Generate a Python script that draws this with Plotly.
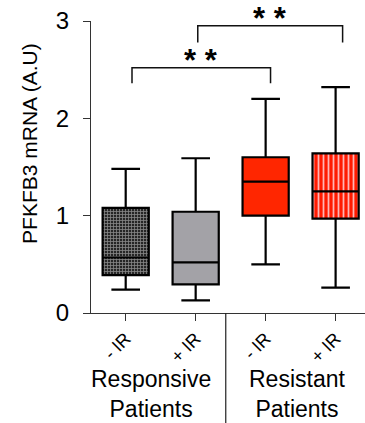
import plotly.graph_objects as go

# ---- data ----
categories = ["- IR", "+ IR", "- IR", "+ IR"]
lower = [0.24, 0.13, 0.50, 0.26]
q1 = [0.39, 0.295, 1.00, 0.97]
median = [0.57, 0.52, 1.35, 1.25]
q3 = [1.08, 1.04, 1.60, 1.64]
upper = [1.48, 1.59, 2.20, 2.32]
groups = ["Responsive<br>Patients", "Resistant<br>Patients"]
comparisons = [(0, 2, "* *"), (1, 3, "* *")]
y_title = "PFKFB3 mRNA (A.U)"

fills = ["rgba(0,0,0,0)", "#a3a2a7", "#ff2600", "rgba(0,0,0,0)"]
patterns = {
    0: dict(shape="+", bgcolor="#262626", fgcolor="#888888", size=3, solidity=0.45, fillmode="replace"),
    3: dict(shape="|", bgcolor="#ff1a00", fgcolor="#ffb4b4", size=5, solidity=0.35, fillmode="replace"),
}

FONT = "Liberation Sans, Arial, sans-serif"
fig = go.Figure()
xs = list(range(len(categories)))
W = 0.66

for i, pat in patterns.items():
    fig.add_trace(go.Bar(x=[xs[i]], y=[q3[i] - q1[i]], base=[q1[i]], width=W,
                         marker=dict(pattern=pat, line=dict(width=0)),
                         showlegend=False, hoverinfo="skip"))

for i in xs:
    fig.add_trace(go.Box(x=[xs[i]], q1=[q1[i]], median=[median[i]], q3=[q3[i]],
                         lowerfence=[lower[i]], upperfence=[upper[i]],
                         width=W, whiskerwidth=0.62, fillcolor=fills[i],
                         line=dict(color="black", width=2.2),
                         showlegend=False, boxpoints=False))

shapes = []
annotations = []
bracket_levels = [(2.36, 2.52), (2.78, 2.95)]
for (a, b, txt), (lo, hi) in zip(comparisons, bracket_levels):
    xa, xb = xs[a] + 0.09, xs[b] + 0.07
    if b == 3:
        xa, xb = xs[a] + 0.03, xs[b] + 0.1
    shapes.append(dict(type="path", xref="x", yref="y",
                       path=f"M{xa},{lo} L{xa},{hi} L{xb},{hi} L{xb},{lo}",
                       line=dict(color="#111", width=1.5)))
    annotations.append(dict(x=(xa + xb) / 2, y=hi, xref="x", yref="y", text=f"<b>{txt}</b>",
                            showarrow=False, yanchor="bottom", yshift=-12,
                            font=dict(family=FONT, size=31, color="black")))

# divider line below x axis
shapes.append(dict(type="line", xref="x", yref="paper", x0=1.43, x1=1.43, y0=0, y1=-0.38,
                   line=dict(color="#222", width=1.2)))
for gx, gtxt in zip([0.36, 2.45], groups):
    annotations.append(dict(x=gx, y=-0.175, xref="x", yref="paper", text=gtxt,
                            showarrow=False, yanchor="top",
                            font=dict(family=FONT, size=23, color="black")))

# y-axis title (placed slightly above centre, as in the original)
annotations.append(dict(x=-0.2226, xref="paper", y=0.579, yref="paper", text=y_title,
                        textangle=-90, showarrow=False, xanchor="center", yanchor="middle",
                        font=dict(family=FONT, size=21, color="black")))

fig.update_layout(
    width=365, height=423,
    margin=dict(l=91, r=0, t=21, b=110),
    plot_bgcolor="white", paper_bgcolor="white",
    barmode="overlay", boxmode="overlay",
    shapes=shapes, annotations=annotations,
    font=dict(family=FONT, color="black"),
)
fig.update_xaxes(range=[-0.496, 3.42], tickvals=xs, ticktext=categories, tickangle=-45,
                 showline=True, linecolor="#333", linewidth=1.2, ticks="outside",
                 ticklen=7, tickcolor="#333", showgrid=False, zeroline=False,
                 automargin=False, tickfont=dict(family=FONT, size=18))
fig.update_yaxes(range=[0, 3], tickvals=[0, 1, 2, 3], showline=True, linecolor="#333",
                 linewidth=1.2, ticks="outside", ticklen=7, tickcolor="#333",
                 showgrid=False, zeroline=False, tickfont=dict(family=FONT, size=24),
                 ticklabelstandoff=9, automargin=False)

fig.write_html("out.html", config={"displayModeBar": False},
               post_script="document.body.style.margin='0';document.body.style.overflow='hidden';")
